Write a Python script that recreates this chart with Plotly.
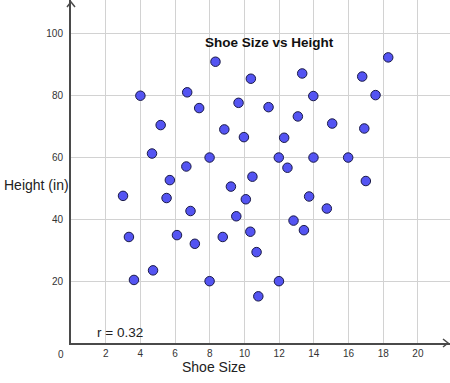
import plotly.graph_objects as go

# ---- data ----
shoe_size = [3.0, 3.34, 3.63, 4.0, 4.67, 4.73, 5.17, 5.51, 5.70, 6.11,
             6.65, 6.70, 6.89, 7.14, 7.39, 7.99, 7.99, 8.33, 8.75, 8.84,
             9.22, 9.53, 9.66, 9.97, 10.08, 10.34, 10.37, 10.46, 10.70, 10.80,
             11.39, 11.98, 11.99, 12.29, 12.48, 12.83, 13.08, 13.33, 13.43, 13.73,
             13.97, 13.98, 14.75, 15.06, 15.98, 16.79, 16.91, 17.00, 17.56, 18.29]
height_in = [47.6, 34.3, 20.4, 80.0, 61.3, 23.5, 70.5, 46.9, 52.7, 34.9,
             57.1, 81.1, 42.7, 32.1, 76.0, 60.0, 20.0, 91.0, 34.3, 69.1,
             50.6, 41.0, 77.7, 66.6, 46.5, 36.0, 85.5, 53.8, 29.4, 15.1,
             76.3, 60.0, 20.0, 66.4, 56.7, 39.6, 73.3, 87.2, 36.5, 47.4,
             79.9, 60.0, 43.5, 71.0, 60.0, 86.2, 69.4, 52.4, 80.2, 92.4]
x_ticks = [2, 4, 6, 8, 10, 12, 14, 16, 18, 20]
y_ticks = [20, 40, 60, 80, 100]
title_text = "Shoe Size vs Height"
x_title = "Shoe Size"
y_title = "Height (in)"
r_text = "r = 0.32"

# ---- layout geometry ----
W, H = 450, 383
ML, MR, MT, MB = 71, 0, 0, 40
PW, PH = W - ML - MR, H - MT - MB
X_PER_PX = 1 / 17.344
Y_PER_PX = 1 / 3.091
x_max = PW * X_PER_PX
y_max = PH * Y_PER_PX


def px_to_paper(px, py):
    return (px - ML) / PW, (H - MB - py) / PH


FONT = "Arial, Liberation Sans, sans-serif"
AXIS_COLOR = "#4a4a4a"
GRID_COLOR = "#d2d2d2"

fig = go.Figure()

fig.add_trace(go.Scatter(
    x=shoe_size, y=height_in, mode="markers",
    marker=dict(size=9.5, color="#5454f2", line=dict(color="#1a1a48", width=1)),
    hoverinfo="x+y", showlegend=False, cliponaxis=False,
))

shapes = []
# arrow heads (open chevrons), in paper coordinates (not clipped)
tx, ty = px_to_paper(448, 343)
bx, by1 = px_to_paper(443, 339)
_, by2 = px_to_paper(443, 347)
shapes.append(dict(type="path", xref="paper", yref="paper",
                   path=f"M {bx},{by1} L {tx},{ty} L {bx},{by2}",
                   line=dict(color=AXIS_COLOR, width=1.5), layer="above"))
tx, ty = px_to_paper(71, 2)
bx1, by = px_to_paper(67, 7)
bx2, _ = px_to_paper(75, 7)
shapes.append(dict(type="path", xref="paper", yref="paper",
                   path=f"M {bx1},{by} L {tx},{ty} L {bx2},{by}",
                   line=dict(color=AXIS_COLOR, width=1.5), layer="above"))

annotations = []
tx, ty = px_to_paper(269, 42)
annotations.append(dict(text=f"<b>{title_text}</b>", x=tx, y=ty, xref="paper", yref="paper",
                        showarrow=False, font=dict(family=FONT, size=13.5, color="#111"),
                        xanchor="center", yanchor="middle"))
tx, ty = px_to_paper(214, 367)
annotations.append(dict(text=x_title, x=tx, y=ty, xref="paper", yref="paper",
                        showarrow=False, font=dict(family=FONT, size=14, color="#222"),
                        xanchor="center", yanchor="middle"))
tx, ty = px_to_paper(36, 185)
annotations.append(dict(text=y_title, x=tx, y=ty, xref="paper", yref="paper",
                        showarrow=False, font=dict(family=FONT, size=14, color="#222"),
                        xanchor="center", yanchor="middle"))
tx, ty = px_to_paper(120, 332)
annotations.append(dict(text=r_text, x=tx, y=ty, xref="paper", yref="paper",
                        showarrow=False, font=dict(family=FONT, size=13.5, color="#222"),
                        xanchor="center", yanchor="middle"))
tx, ty = px_to_paper(61, 354)
annotations.append(dict(text="0", x=tx, y=ty, xref="paper", yref="paper",
                        showarrow=False, font=dict(family=FONT, size=10, color="#333"),
                        xanchor="center", yanchor="middle"))

fig.update_layout(
    width=W, height=H,
    margin=dict(l=ML, r=MR, t=MT, b=MB, pad=0, autoexpand=False),
    paper_bgcolor="white", plot_bgcolor="white",
    shapes=shapes, annotations=annotations,
    xaxis=dict(range=[0, x_max], tickvals=x_ticks, ticktext=[str(v) for v in x_ticks],
               showgrid=True, gridcolor=GRID_COLOR, gridwidth=1.2, zeroline=False,
               showline=True, linecolor=AXIS_COLOR, linewidth=2,
               ticks="", automargin=False,
               tickfont=dict(family=FONT, size=10, color="#333"), fixedrange=True),
    yaxis=dict(range=[0, y_max], tickvals=y_ticks, ticktext=[str(v) for v in y_ticks],
               showgrid=True, gridcolor=GRID_COLOR, gridwidth=1.2, zeroline=False,
               showline=True, linecolor=AXIS_COLOR, linewidth=2,
               ticks="outside", ticklen=4, tickcolor="rgba(0,0,0,0)", automargin=False,
               tickfont=dict(family=FONT, size=10, color="#333"), fixedrange=True),
    showlegend=False,
)

fig.write_html("out.html", config={"displayModeBar": False},
               post_script="document.body.style.margin='0';")
